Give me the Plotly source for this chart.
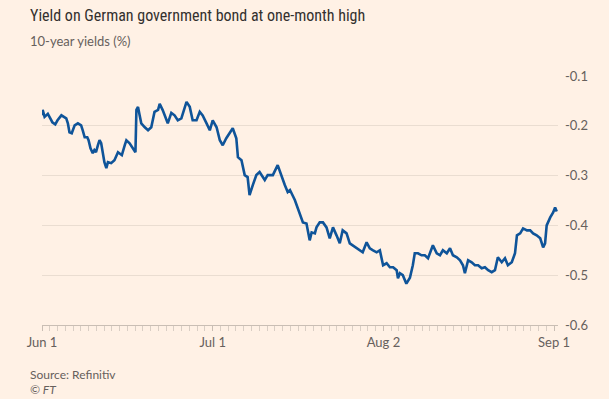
import plotly.graph_objects as go

# ---- data ----
times = [
    "2021-06-01 00:00", "2021-06-01 02:00", "2021-06-01 08:00", "2021-06-01 18:00",
    "2021-06-02 05:00", "2021-06-02 08:00", "2021-06-02 17:00", "2021-06-03 00:00",
    "2021-06-03 12:00", "2021-06-03 22:00", "2021-06-04 03:00", "2021-06-04 08:00",
    "2021-06-04 13:00", "2021-06-04 20:00", "2021-06-07 05:00", "2021-06-07 15:00",
    "2021-06-08 01:00", "2021-06-08 06:00", "2021-06-08 12:00", "2021-06-08 20:00",
    "2021-06-09 00:00", "2021-06-09 06:00", "2021-06-09 13:00", "2021-06-09 18:00",
    "2021-06-09 23:00", "2021-06-10 05:00", "2021-06-10 10:00", "2021-06-10 15:00",
    "2021-06-10 20:00", "2021-06-11 01:00", "2021-06-11 07:00", "2021-06-11 12:00",
    "2021-06-11 22:00", "2021-06-14 08:00", "2021-06-14 19:00", "2021-06-15 00:00",
    "2021-06-15 07:00", "2021-06-15 16:00", "2021-06-15 21:00", "2021-06-16 07:00",
    "2021-06-16 17:00", "2021-06-17 01:00", "2021-06-17 04:00", "2021-06-17 09:00",
    "2021-06-17 14:00", "2021-06-17 19:00", "2021-06-18 06:00", "2021-06-18 16:00",
    "2021-06-21 02:00", "2021-06-21 12:00", "2021-06-21 23:00", "2021-06-22 04:00",
    "2021-06-22 13:00", "2021-06-23 05:00", "2021-06-23 16:00", "2021-06-24 02:00",
    "2021-06-24 12:00", "2021-06-24 23:00", "2021-06-25 15:00", "2021-06-28 01:00",
    "2021-06-28 10:00", "2021-06-28 22:00", "2021-06-29 08:00", "2021-06-29 17:00",
    "2021-06-30 05:00", "2021-06-30 15:00", "2021-07-01 00:00", "2021-07-01 12:00",
    "2021-07-01 22:00", "2021-07-02 07:00", "2021-07-02 18:00", "2021-07-05 05:00",
    "2021-07-05 14:00", "2021-07-06 01:00", "2021-07-06 06:00", "2021-07-06 17:00",
    "2021-07-07 03:00", "2021-07-07 12:00", "2021-07-07 18:00", "2021-07-08 04:00",
    "2021-07-08 15:00", "2021-07-09 01:00", "2021-07-09 17:00", "2021-07-12 02:00",
    "2021-07-12 18:00", "2021-07-13 09:00", "2021-07-13 21:00", "2021-07-14 07:00",
    "2021-07-14 16:00", "2021-07-14 23:00", "2021-07-15 14:00", "2021-07-16 06:00",
    "2021-07-16 15:00", "2021-07-19 02:00", "2021-07-19 12:00", "2021-07-19 18:00",
    "2021-07-20 04:00", "2021-07-20 09:00", "2021-07-20 19:00", "2021-07-21 05:00",
    "2021-07-21 16:00", "2021-07-22 02:00", "2021-07-22 12:00", "2021-07-22 23:00",
    "2021-07-23 09:00", "2021-07-23 18:00", "2021-07-26 06:00", "2021-07-26 16:00",
    "2021-07-27 01:00", "2021-07-27 13:00", "2021-07-27 23:00", "2021-07-28 08:00",
    "2021-07-28 20:00", "2021-07-29 06:00", "2021-07-29 16:00", "2021-07-30 03:00",
    "2021-07-30 13:00", "2021-07-30 23:00", "2021-08-02 10:00", "2021-08-02 20:00",
    "2021-08-03 06:00", "2021-08-03 17:00", "2021-08-03 21:00", "2021-08-04 03:00",
    "2021-08-04 12:00", "2021-08-04 23:00", "2021-08-05 10:00", "2021-08-05 19:00",
    "2021-08-06 01:00", "2021-08-06 11:00", "2021-08-06 22:00", "2021-08-09 08:00",
    "2021-08-09 18:00", "2021-08-10 00:00", "2021-08-10 09:00", "2021-08-10 21:00",
    "2021-08-11 07:00", "2021-08-11 16:00", "2021-08-12 04:00", "2021-08-12 14:00",
    "2021-08-12 23:00", "2021-08-13 11:00", "2021-08-13 21:00", "2021-08-16 06:00",
    "2021-08-16 12:00", "2021-08-16 22:00", "2021-08-17 09:00", "2021-08-17 19:00",
    "2021-08-18 05:00", "2021-08-18 16:00", "2021-08-19 02:00", "2021-08-19 12:00",
    "2021-08-19 23:00", "2021-08-20 09:00", "2021-08-20 18:00", "2021-08-23 06:00",
    "2021-08-23 16:00", "2021-08-24 01:00", "2021-08-24 13:00", "2021-08-24 23:00",
    "2021-08-25 05:00", "2021-08-25 15:00", "2021-08-26 00:00", "2021-08-26 12:00",
    "2021-08-26 22:00", "2021-08-27 07:00", "2021-08-27 18:00", "2021-08-30 05:00",
    "2021-08-30 14:00", "2021-08-30 20:00", "2021-08-31 01:00", "2021-08-31 12:00",
    "2021-08-31 21:00", "2021-09-01 03:00", "2021-09-01 08:00",
]

yields = [
    -0.179, -0.168, -0.182, -0.176,
    -0.189, -0.193, -0.197, -0.189,
    -0.179, -0.182, -0.185, -0.195,
    -0.213, -0.215, -0.199, -0.195,
    -0.199, -0.209, -0.223, -0.223,
    -0.229, -0.245, -0.255, -0.249,
    -0.253, -0.239, -0.229, -0.235,
    -0.259, -0.273, -0.285, -0.273,
    -0.275, -0.269, -0.253, -0.255,
    -0.259, -0.239, -0.229, -0.235,
    -0.245, -0.253, -0.168, -0.162,
    -0.179, -0.195, -0.203, -0.209,
    -0.203, -0.172, -0.168, -0.156,
    -0.168, -0.195, -0.174, -0.179,
    -0.189, -0.185, -0.152, -0.162,
    -0.189, -0.189, -0.172, -0.179,
    -0.195, -0.209, -0.189, -0.203,
    -0.229, -0.239, -0.225, -0.213,
    -0.205, -0.225, -0.263, -0.269,
    -0.299, -0.303, -0.339, -0.319,
    -0.299, -0.293, -0.309, -0.299,
    -0.299, -0.279, -0.303, -0.319,
    -0.333, -0.329, -0.349, -0.376,
    -0.394, -0.396, -0.430, -0.414,
    -0.416, -0.404, -0.394, -0.394,
    -0.404, -0.426, -0.404, -0.420,
    -0.436, -0.410, -0.416, -0.436,
    -0.440, -0.444, -0.450, -0.454,
    -0.434, -0.446, -0.450, -0.454,
    -0.450, -0.480, -0.476, -0.484,
    -0.484, -0.490, -0.506, -0.496,
    -0.500, -0.517, -0.505, -0.480,
    -0.456, -0.456, -0.460, -0.460,
    -0.466, -0.456, -0.440, -0.456,
    -0.460, -0.450, -0.456, -0.446,
    -0.460, -0.464, -0.470, -0.480,
    -0.496, -0.470, -0.474, -0.480,
    -0.480, -0.486, -0.484, -0.490,
    -0.494, -0.490, -0.464, -0.474,
    -0.466, -0.480, -0.474, -0.456,
    -0.420, -0.416, -0.406, -0.410,
    -0.410, -0.416, -0.420, -0.426,
    -0.444, -0.436, -0.400, -0.384,
    -0.374, -0.364, -0.372,
]

x_tickvals = ["2021-06-01", "2021-07-01", "2021-08-02", "2021-09-01"]
x_ticktext = ["Jun 1", "Jul 1", "Aug 2", "Sep 1"]
y_tickvals = [-0.6, -0.5, -0.4, -0.3, -0.2, -0.1]
y_ticktext = ["-0.6", "-0.5", "-0.4", "-0.3", "-0.2", "-0.1"]

title = "Yield on German government bond at one-month high"
subtitle = "10-year yields (%)"
source = "Source: Refinitiv"
credit = "© FT"

# ---- styling ----
BG = "#FFF1E5"
LINE = "#0F5499"
GRID = "#EADDD1"
TICKTXT = "#66605C"
FONT = "Liberation Sans Narrow, Roboto Condensed, Arial Narrow, sans-serif"
FONT2 = "Lato, Roboto, sans-serif"

fig = go.Figure()
fig.add_trace(go.Scatter(
    x=times, y=yields, mode="lines",
    line=dict(color=LINE, width=2.6),
    hoverinfo="skip", showlegend=False,
))

fig.update_layout(
    width=609, height=399,
    paper_bgcolor=BG, plot_bgcolor=BG,
    margin=dict(l=42, r=51, t=76, b=74),
    font=dict(family=FONT2, color=TICKTXT, size=13),
    showlegend=False,
    xaxis=dict(
        range=["2021-06-01 00:00", "2021-09-01 12:00"],
        rangebreaks=[dict(bounds=["sat", "mon"])],
        tickmode="array", tickvals=x_tickvals, ticktext=x_ticktext,
        ticks="outside", ticklen=5, tickcolor="#C9BEB4", tickwidth=1,
        minor=dict(dtick=86400000, ticks="outside", ticklen=5,
                   tickcolor="#D9CEC4", tickwidth=1, showgrid=False),
        showgrid=False, zeroline=False,
        showline=True, linecolor="#C9BEB4", linewidth=1,
        tickfont=dict(family=FONT2, size=13, color=TICKTXT),
        fixedrange=True,
    ),
    yaxis=dict(
        range=[-0.6, -0.1],
        side="right",
        tickmode="array", tickvals=y_tickvals, ticktext=y_ticktext,
        showgrid=True, gridcolor=GRID, gridwidth=1,
        zeroline=False, showline=False, ticks="",
        ticklabelstandoff=6,
        tickfont=dict(family=FONT2, size=13, color=TICKTXT),
        fixedrange=True,
    ),
)

def px_to_paper_x(px):
    return (px - 42) / 516.0

def px_to_paper_y(py):
    return (325 - py) / 249.0

fig.add_annotation(text=title, xref="paper", yref="paper",
                   x=px_to_paper_x(28), y=px_to_paper_y(15),
                   xanchor="left", yanchor="middle", showarrow=False,
                   font=dict(family=FONT, size=16, color="#33302E"))
fig.add_annotation(text=subtitle, xref="paper", yref="paper",
                   x=px_to_paper_x(28), y=px_to_paper_y(41),
                   xanchor="left", yanchor="middle", showarrow=False,
                   font=dict(family=FONT2, size=13, color=TICKTXT))
fig.add_annotation(text=source, xref="paper", yref="paper",
                   x=px_to_paper_x(28), y=px_to_paper_y(374),
                   xanchor="left", yanchor="middle", showarrow=False,
                   font=dict(family=FONT2, size=12, color=TICKTXT))
fig.add_annotation(text="<i>" + credit + "</i>", xref="paper", yref="paper",
                   x=px_to_paper_x(28), y=px_to_paper_y(389),
                   xanchor="left", yanchor="middle", showarrow=False,
                   font=dict(family=FONT2, size=12, color=TICKTXT))

fig.write_html("out.html",
               config={"displayModeBar": False},
               post_script="document.body.style.margin='0px';"
                           "document.body.style.background='" + BG + "';")
